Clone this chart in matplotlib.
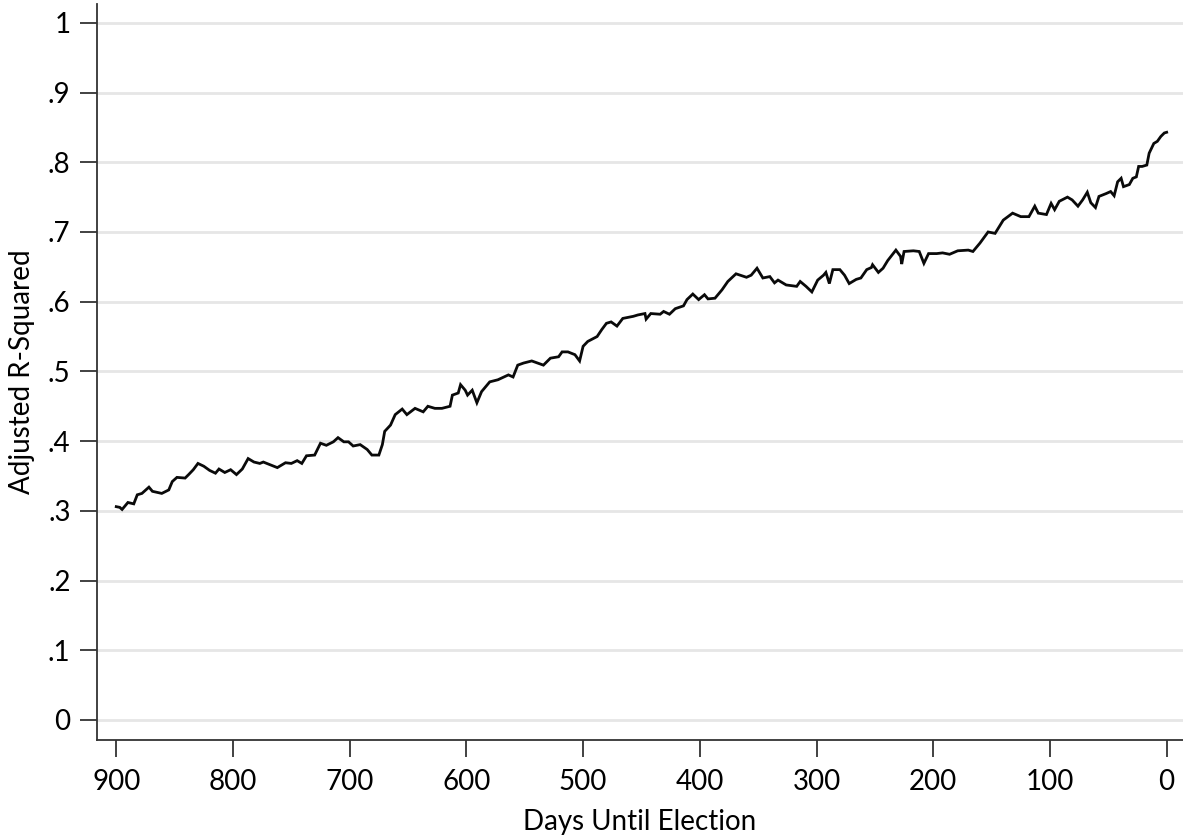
import matplotlib
matplotlib.use('Agg')
from matplotlib import pyplot as plt

# days until election and adjusted R-squared
days = [900, 897, 895, 890, 885, 882, 878, 872, 869, 861, 855, 852, 848, 841, 838, 834, 830, 825,
        820, 815, 812, 807, 802, 797, 792, 787, 782, 777, 774, 762, 755, 750, 745, 741, 737, 730,
        725, 720, 714, 710, 705, 701, 697, 691, 685, 681, 675, 672, 670, 665, 661, 655, 651, 644,
        637, 633, 627, 621, 614, 612, 607, 605, 601, 599, 595, 591, 587, 580, 573, 564, 560, 556,
        551, 544, 534, 528, 521, 518, 513, 507, 503, 500, 496, 488, 484, 480, 476, 471, 466, 457,
        453, 447, 446, 442, 434, 431, 426, 421, 414, 411, 406, 401, 396, 393, 387, 381, 376, 369,
        360, 356, 351, 346, 340, 336, 333, 326, 317, 314, 309, 304, 299, 294, 292, 289, 286, 280,
        276, 272, 266, 262, 257, 253, 252, 247, 243, 239, 232, 228, 227, 225, 217, 212, 208, 204,
        197, 192, 186, 179, 170, 166, 160, 153, 147, 140, 132, 125, 118, 113, 110, 103, 99, 96,
        92, 85, 81, 76, 72, 68, 65, 61, 58, 52, 48, 45, 42, 39, 37, 32, 29, 26, 24, 21, 17, 15,
        11, 8, 5, 2, 0]
r2 = [.306, .305, .302, .312, .310, .323, .325, .334, .328, .325, .330, .342, .348, .347, .352, .359, .368, .364,
      .358, .354, .360, .355, .359, .352, .360, .375, .370, .368, .370, .362, .369, .368, .372, .368, .379, .380,
      .397, .394, .399, .405, .399, .399, .393, .395, .388, .380, .380, .395, .414, .423, .438, .446, .438, .447,
      .442, .450, .447, .447, .450, .466, .469, .481, .473, .466, .473, .455, .471, .485, .488, .495, .492, .509,
      .512, .515, .509, .519, .521, .528, .528, .524, .515, .536, .543, .550, .560, .569, .571, .565, .576, .579,
      .581, .583, .575, .583, .582, .586, .582, .590, .594, .603, .611, .603, .610, .604, .605, .617, .629, .640,
      .635, .638, .648, .634, .636, .627, .631, .624, .622, .629, .622, .614, .631, .638, .642, .626, .646, .646,
      .638, .626, .632, .634, .646, .649, .653, .642, .648, .659, .674, .665, .654, .672, .673, .672, .655, .669,
      .669, .670, .668, .673, .674, .672, .684, .700, .698, .717, .727, .722, .722, .737, .727, .725, .741, .732,
      .744, .750, .746, .737, .746, .757, .742, .735, .751, .755, .758, .752, .772, .777, .765, .768, .777, .779, .794, .794, .796, .813,
      .827, .830, .837, .842, .843]

xticks = [900, 800, 700, 600, 500, 400, 300, 200, 100, 0]
yticks = [0, .1, .2, .3, .4, .5, .6, .7, .8, .9, 1]
ylabels = ['0', '.1', '.2', '.3', '.4', '.5', '.6', '.7', '.8', '.9', '1']

plt.rcParams['font.family'] = ['Lato', 'DejaVu Sans']

fig = plt.figure(figsize=(11.83, 8.40), dpi=100)
ax = fig.add_axes([97 / 1183, 100 / 840, 1 - 97 / 1183, 736 / 840])

ax.plot(days, r2, color='#0a0a0a', lw=2.0, solid_joinstyle='miter')

ax.set_xlim(916.5, -14)
ax.set_ylim(-0.0287, 1.027)
ax.set_xticks(xticks)
ax.set_yticks(yticks)
ax.set_yticklabels(ylabels)
ax.tick_params(axis='both', labelsize=20, length=12, width=1.3, color='#333333', direction='out')
ax.tick_params(axis='y', pad=7)
ax.tick_params(axis='x', pad=9)

ax.yaxis.grid(True, color='#e6e6e6', lw=2)
ax.set_axisbelow(True)
for s in ['top', 'right']:
    ax.spines[s].set_visible(False)
for s in ['left', 'bottom']:
    ax.spines[s].set_color('#333333')
    ax.spines[s].set_linewidth(1.3)

ax.set_xlabel('Days Until Election', fontsize=20, labelpad=10)
ax.set_ylabel('Adjusted R-Squared', fontsize=20, labelpad=9)

fig.savefig('out.png', dpi=100)
